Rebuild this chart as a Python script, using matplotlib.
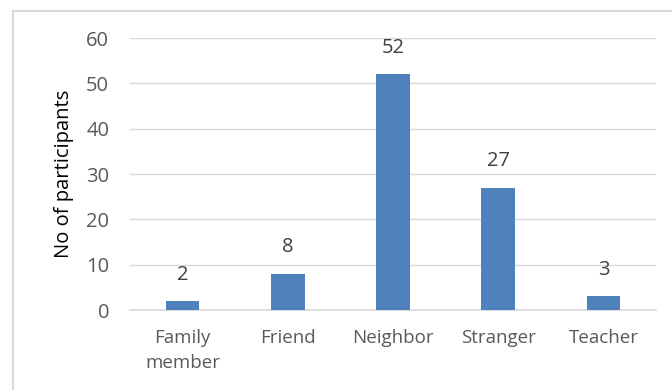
import matplotlib
matplotlib.use("Agg")
import matplotlib.pyplot as plt
from matplotlib.patches import Rectangle

categories = ["Family\nmember", "Friend", "Neighbor", "Stranger", "Teacher"]
values = [2, 8, 52, 27, 3]
yticks = [0, 10, 20, 30, 40, 50, 60]

plt.rcParams['font.family'] = ['Open Sans', 'DejaVu Sans']

W, H = 672, 390
fig = plt.figure(figsize=(W/100, H/100), dpi=100)
fig.patch.set_facecolor("white")
# outer chart border (extends past image bottom/right)
fig.patches.append(Rectangle((13/W, -0.1), 1.2, (H-11)/H + 0.1, transform=fig.transFigure,
                             fill=False, edgecolor="#d9d9d9", linewidth=1.5))

ax = fig.add_axes([130/W, 1-310/H, (656-130)/W, (310-38)/H])
x = list(range(len(categories)))
ax.bar(x, values, width=0.32, color="#4f81bd", zorder=3)
for xi, v in zip(x, values):
    ax.annotate(str(v), (xi, v), xytext=(0, 19), textcoords="offset points",
                ha="center", va="center", fontsize=14.5, color="#404040")

ax.set_xlim(-0.5, len(categories) - 0.5)
ax.set_ylim(0, 60)
ax.set_yticks(yticks)
ax.set_yticklabels([str(t) for t in yticks], fontsize=14.5, color="#595959")
ax.set_xticks(x)
ax.set_xticklabels(categories, fontsize=13.5, color="#595959", linespacing=1.45)
ax.tick_params(axis="x", length=0, pad=14)
ax.tick_params(axis="y", length=0, pad=15)
ax.grid(axis="y", color="#d9d9d9", linewidth=1, zorder=0)
for s in ["top", "right", "left"]:
    ax.spines[s].set_visible(False)
ax.spines["bottom"].set_color("#d9d9d9")
ax.spines["bottom"].set_linewidth(1.2)
ax.set_ylabel("No of participants", fontsize=14.5, color="#000000")
ax.yaxis.set_label_coords(64/W - 130/W, 0, transform=fig.transFigure)
ax.yaxis.label.set_position((64/W, 1-174/H))
ax.yaxis.label.set_verticalalignment("center")

fig.savefig("out.png", dpi=100, facecolor="white")
